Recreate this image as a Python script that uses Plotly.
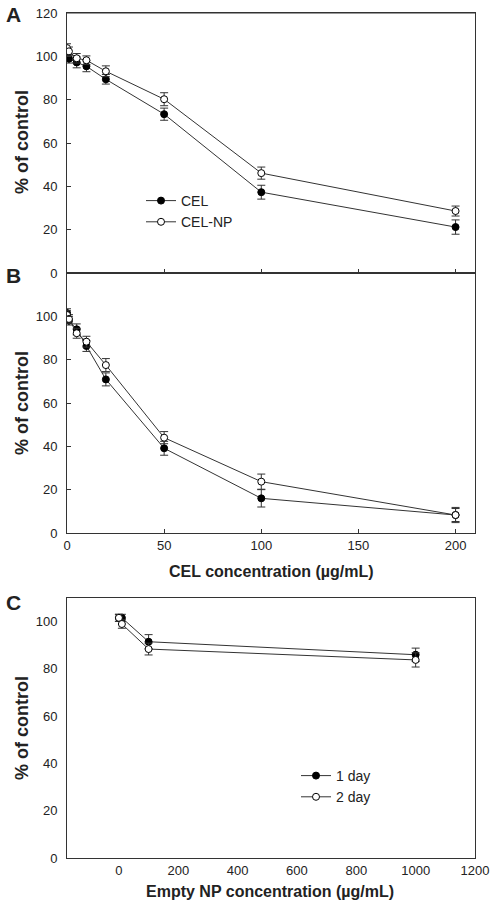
import plotly.graph_objects as go

# ---------------- data ----------------
cel_conc = [0, 1, 5, 10, 20, 50, 100, 200]

a_cel = [100.8, 98.9, 97.2, 95.4, 89.4, 73.3, 37.3, 21.2]
a_cel_err = [2.0, 2.0, 2.5, 2.5, 2.2, 2.8, 3.2, 3.3]
a_celnp = [103.8, 102.3, 99.1, 98.2, 93.1, 80.2, 46.1, 28.6]
a_celnp_err = [2.0, 2.0, 2.2, 2.0, 2.5, 3.0, 2.8, 2.3]

b_cel = [101.5, 98.0, 94.0, 86.3, 70.9, 39.1, 16.0, 8.3]
b_cel_err = [2.0, 2.0, 2.5, 2.5, 3.0, 3.2, 4.0, 3.0]
b_celnp = [100.6, 98.8, 92.2, 88.3, 77.5, 44.0, 23.7, 8.3]
b_celnp_err = [2.0, 2.0, 2.3, 2.5, 3.0, 2.8, 3.5, 3.5]

np_conc = [0, 10, 100, 1000]
c_day1 = [101.6, 101.6, 91.5, 86.0]
c_day1_err = [1.5, 1.5, 3.0, 2.8]
c_day2 = [101.6, 99.0, 88.4, 83.8]
c_day2_err = [1.5, 1.8, 2.5, 3.0]

y_ticks_ab = [0, 20, 40, 60, 80, 100, 120]
y_ticks_c = [0, 20, 40, 60, 80, 100]
x_ticks_ab = [0, 50, 100, 150, 200]
x_ticks_c = [0, 200, 400, 600, 800, 1000, 1200]

# ---------------- styling ----------------
FONT = "Liberation Sans, Arial, sans-serif"
TXT = "#222222"
LINE = "#333333"
W, H = 495, 908

def px_x(p):
    return p / W

def px_y(p):
    return 1 - p / H

def trace(x, y, err, filled, xa, ya, name, legend, show):
    return go.Scatter(
        x=x, y=y, mode="lines+markers", name=name,
        xaxis=xa, yaxis=ya, legend=legend, showlegend=show,
        line=dict(color=LINE, width=1),
        marker=dict(symbol="circle", size=7,
                    color="black" if filled else "white",
                    line=dict(color="black", width=1)),
        error_y=dict(type="data", array=err, visible=True,
                     color=LINE, thickness=1, width=4),
    )

fig = go.Figure()
fig.add_trace(trace(cel_conc, a_cel, a_cel_err, True, "x", "y", "CEL", "legend", True))
fig.add_trace(trace(cel_conc, a_celnp, a_celnp_err, False, "x", "y", "CEL-NP", "legend", True))
fig.add_trace(trace(cel_conc, b_cel, b_cel_err, True, "x2", "y2", "CEL", "legend", False))
fig.add_trace(trace(cel_conc, b_celnp, b_celnp_err, False, "x2", "y2", "CEL-NP", "legend", False))
fig.add_trace(trace(np_conc, c_day1, c_day1_err, True, "x3", "y3", "1 day", "legend2", True))
fig.add_trace(trace(np_conc, c_day2, c_day2_err, False, "x3", "y3", "2 day", "legend2", True))

xdom = [px_x(67), px_x(475)]
tickfont = dict(family=FONT, size=13, color=TXT)

def xaxis(rng, tickvals, labels, ticks, anchor):
    return dict(domain=xdom, range=rng, tickvals=tickvals,
                showticklabels=labels, ticks=ticks, ticklen=4,
                tickcolor=LINE, showline=True, linecolor=LINE, linewidth=1,
                mirror=True, showgrid=False, zeroline=False,
                tickfont=tickfont, anchor=anchor, automargin=False)

def yaxis(dom, rng, tickvals, ticks, anchor):
    return dict(domain=dom, range=rng, tickvals=tickvals,
                ticks=ticks, ticklen=4, tickcolor=LINE,
                showline=True, linecolor=LINE, linewidth=1, mirror=True,
                showgrid=False, zeroline=False, tickfont=tickfont,
                anchor=anchor, ticklabelstandoff=6, automargin=False)

fig.update_layout(
    width=W, height=H,
    margin=dict(l=0, r=0, t=0, b=0),
    paper_bgcolor="white", plot_bgcolor="white",
    font=dict(family=FONT, color=TXT),
    xaxis=xaxis([0, 210], x_ticks_ab, False, "inside", "y"),
    yaxis=yaxis([px_y(273), px_y(13)], [0, 120], y_ticks_ab, "inside", "x"),
    xaxis2=xaxis([0, 210], x_ticks_ab, True, "inside", "y2"),
    yaxis2=yaxis([px_y(533), px_y(273)], [0, 120], y_ticks_ab[:-1], "inside", "x2"),
    xaxis3=xaxis([-175, 1200], x_ticks_c, True, "", "y3"),
    yaxis3=yaxis([px_y(858), px_y(598)], [0, 110], y_ticks_c, "", "x3"),
    legend=dict(x=px_x(141), y=px_y(185), xanchor="left", yanchor="top",
                bgcolor="rgba(0,0,0,0)", font=dict(family=FONT, size=14, color=TXT),
                itemwidth=30, tracegroupgap=0),
    legend2=dict(x=px_x(296), y=px_y(760), xanchor="left", yanchor="top",
                 bgcolor="rgba(0,0,0,0)", font=dict(family=FONT, size=14, color=TXT),
                 itemwidth=30, tracegroupgap=0),
)

# frame line along the top of panel A
fig.add_shape(type="line", xref="x domain", yref="y domain", x0=0, x1=1, y0=1, y1=1,
              line=dict(color=LINE, width=1), layer="above")

ann = []
for letter, yp in [("A", 15), ("B", 276), ("C", 602)]:
    ann.append(dict(text=f"<b>{letter}</b>", x=px_x(13), y=px_y(yp), xref="paper", yref="paper",
                    showarrow=False, font=dict(family=FONT, size=21, color=TXT),
                    xanchor="center", yanchor="middle"))
for yp in [142, 403, 728]:
    ann.append(dict(text="<b>% of control</b>", x=px_x(22), y=px_y(yp), xref="paper", yref="paper",
                    showarrow=False, textangle=-90, font=dict(family=FONT, size=18, color=TXT),
                    xanchor="center", yanchor="middle"))
ann.append(dict(text="<b>CEL concentration (µg/mL)</b>", x=px_x(271), y=px_y(571),
                xref="paper", yref="paper", showarrow=False,
                font=dict(family=FONT, size=16, color=TXT), xanchor="center", yanchor="middle"))
ann.append(dict(text="<b>Empty NP concentration (µg/mL)</b>", x=px_x(270), y=px_y(891),
                xref="paper", yref="paper", showarrow=False,
                font=dict(family=FONT, size=16, color=TXT), xanchor="center", yanchor="middle"))
fig.update_layout(annotations=ann)

fig.write_html(
    "out.html",
    config={"displayModeBar": False},
    post_script="document.body.style.margin='0px';document.body.style.padding='0px';"
                "document.documentElement.style.overflow='hidden';",
)
